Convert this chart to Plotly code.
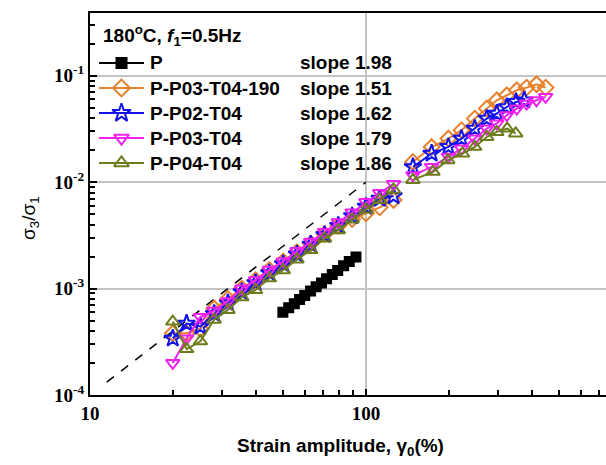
import plotly.graph_objects as go

# ---------------- data ----------------
x_P = [50, 52.5, 55, 57.5, 60, 63, 66, 69, 72, 75.5, 79, 83, 87, 92]
y_P = [6.0e-4, 6.6e-4, 7.2e-4, 7.9e-4, 8.6e-4, 9.5e-4, 1.04e-3, 1.13e-3,
       1.24e-3, 1.36e-3, 1.48e-3, 1.64e-3, 1.80e-3, 1.98e-3]

x_low = [19.95, 22.39, 25.12, 28.18, 31.62, 35.48, 39.81, 44.67, 50.12,
         56.23, 63.10, 70.79, 79.43, 89.13, 100.0, 112.2, 125.9]

y_orange_low = [3.8e-4, 3.8e-4, 4.2e-4, 6.5e-4, 8.0e-4, 1.0e-3, 1.2e-3, 1.5e-3, 1.8e-3,
                2.2e-3, 2.65e-3, 3.25e-3, 3.9e-3, 4.5e-3, 5.1e-3, 5.8e-3, 6.8e-3]
y_blue_low = [3.4e-4, 4.7e-4, 4.4e-4, 5.8e-4, 7.3e-4, 9.3e-4, 1.13e-3, 1.4e-3, 1.7e-3,
              2.1e-3, 2.6e-3, 3.2e-3, 3.9e-3, 4.8e-3, 5.9e-3, 7.0e-3, 7.4e-3]
y_magenta_low = [2.0e-4, 3.4e-4, 5.4e-4, 6.2e-4, 7.6e-4, 1.0e-3, 1.2e-3, 1.5e-3, 1.8e-3,
                 2.25e-3, 2.75e-3, 3.4e-3, 4.2e-3, 5.2e-3, 6.5e-3, 7.9e-3, 9.6e-3]
y_olive_low = [4.9e-4, 2.7e-4, 3.2e-4, 5.1e-4, 6.3e-4, 8.3e-4, 9.7e-4, 1.25e-3, 1.49e-3,
               1.88e-3, 2.3e-3, 2.96e-3, 3.54e-3, 4.47e-3, 5.55e-3, 6.8e-3, 8.5e-3]

x_orange_high = [148, 173, 199, 222, 248, 274, 298, 324, 352, 382, 415, 448]
y_orange_high = [1.55e-2, 2.14e-2, 2.57e-2, 3.08e-2, 3.96e-2, 4.92e-2, 5.89e-2, 6.56e-2,
                 7.31e-2, 7.74e-2, 8.32e-2, 7.74e-2]
x_blue_high = [148, 173, 199, 222, 248, 274, 298, 324, 350, 375]
y_blue_high = [1.39e-2, 1.86e-2, 2.15e-2, 2.57e-2, 3.19e-2, 3.96e-2, 4.42e-2, 5.09e-2,
               5.68e-2, 5.89e-2]
x_magenta_high = [148, 173, 199, 222, 248, 274, 298, 324, 352, 382, 415, 448]
y_magenta_high = [1.16e-2, 1.39e-2, 1.73e-2, 2.07e-2, 2.57e-2, 3.19e-2, 3.56e-2, 4.26e-2,
                  4.92e-2, 5.48e-2, 5.89e-2, 6.33e-2]
x_olive_high = [148, 175, 198, 224, 248, 274, 298, 325, 349]
y_olive_high = [1.05e-2, 1.25e-2, 1.61e-2, 1.86e-2, 2.15e-2, 2.66e-2, 2.97e-2, 3.19e-2, 2.87e-2]

guide_x = [11.5, 100]
guide_y = [1.32e-4, 1.0e-2]

legend_title = "180<sup>o</sup>C, <i>f</i><sub>1</sub>=0.5Hz"
names = ["P", "P-P03-T04-190", "P-P02-T04", "P-P03-T04", "P-P04-T04"]
slopes = ["slope 1.98", "slope 1.51", "slope 1.62", "slope 1.79", "slope 1.86"]
colors = ["#000000", "#E8802C", "#1010F0", "#F020F0", "#6E7B1B"]
symbols = ["square", "diamond-open", "star-open", "triangle-down-open", "triangle-up-open"]

y_tickvals = [1e-4, 1e-3, 1e-2, 1e-1]
y_ticktext = ["10<sup>-4</sup>", "10<sup>-3</sup>", "10<sup>-2</sup>", "10<sup>-1</sup>"]
x_tickvals = [10, 100]
x_ticktext = ["10", "100"]


def joined(xa, ya, xb, yb):
    return list(xa) + [None] + list(xb), list(ya) + [None] + list(yb)


series = [
    (x_P, y_P),
    joined(x_low, y_orange_low, x_orange_high, y_orange_high),
    joined(x_low, y_blue_low, x_blue_high, y_blue_high),
    joined(x_low, y_magenta_low, x_magenta_high, y_magenta_high),
    joined(x_low, y_olive_low, x_olive_high, y_olive_high),
]

W, H = 606, 465
ml, mr, mt, mb = 90, 0, 13, 70
pw = W - ml - mr
ph = H - mt - mb


def px2paper_x(px):
    return (px - ml) / pw


def px2paper_y(py):
    return (H - mb - py) / ph


FONT = "Liberation Sans, Arial"

fig = go.Figure()

fig.add_trace(go.Scatter(x=guide_x, y=guide_y, mode="lines", showlegend=False,
                         line=dict(color="black", width=1.5, dash="dash")))

sizes = [9, 12, 13, 12, 12]
for i, (xs, ys) in enumerate(series):
    fig.add_trace(go.Scatter(
        x=xs, y=ys, mode="lines+markers", name=names[i], connectgaps=False,
        showlegend=False,
        line=dict(color=colors[i], width=2),
        marker=dict(symbol=symbols[i], size=sizes[i], color=colors[i],
                    line=dict(color=colors[i], width=2)),
    ))

# ---- hand-built legend (keys on an overlay axis in plot-fraction units) ----
rows_y = [63, 88, 113, 138, 163]
key_x0, key_x1, text_x, slope_x = 99, 144, 148, 298
for i in range(len(names)):
    yy = px2paper_y(rows_y[i])
    fig.add_trace(go.Scatter(
        x=[px2paper_x(key_x0), px2paper_x(key_x1)], y=[yy, yy], mode="lines",
        xaxis="x2", yaxis="y2", showlegend=False, hoverinfo="skip",
        line=dict(color=colors[i], width=2)))
    fig.add_trace(go.Scatter(
        x=[px2paper_x((key_x0 + key_x1) / 2)], y=[yy], mode="markers",
        xaxis="x2", yaxis="y2", showlegend=False, hoverinfo="skip",
        marker=dict(symbol=symbols[i], size=sizes[i] + 1, color=colors[i],
                    line=dict(color=colors[i], width=2))))
    fig.add_annotation(x=px2paper_x(text_x), y=yy, xref="paper", yref="paper",
                       text=names[i], showarrow=False, xanchor="left", yanchor="middle",
                       font=dict(family=FONT, size=19, color="black", weight="bold"))
    fig.add_annotation(x=px2paper_x(slope_x), y=yy, xref="paper", yref="paper",
                       text=slopes[i], showarrow=False, xanchor="left", yanchor="middle",
                       font=dict(family=FONT, size=19, color="black", weight="bold"))

fig.add_annotation(x=px2paper_x(101), y=px2paper_y(35), xref="paper", yref="paper",
                   text=legend_title, showarrow=False, xanchor="left", yanchor="middle",
                   font=dict(family=FONT, size=19, color="black", weight="bold"))

fig.add_annotation(x=px2paper_x(340), y=px2paper_y(447), xref="paper", yref="paper",
                   text="Strain amplitude, γ<sub>0</sub>(%)", showarrow=False,
                   xanchor="center", yanchor="middle",
                   font=dict(family=FONT, size=19, color="black", weight="bold"))
fig.add_annotation(x=px2paper_x(30), y=px2paper_y(218), xref="paper", yref="paper",
                   text="σ<sub>3</sub>/σ<sub>1</sub>", showarrow=False, textangle=-90,
                   xanchor="center", yanchor="middle",
                   font=dict(family=FONT, size=19, color="black"))

tickfont = dict(family="Liberation Serif, Times New Roman", size=19, color="black",
                weight="bold")
fig.update_layout(
    width=W, height=H,
    margin=dict(l=ml, r=mr, t=mt, b=mb, pad=0),
    paper_bgcolor="white", plot_bgcolor="white",
    showlegend=False,
    xaxis=dict(type="log", range=[1, 2.87], showline=True, linecolor="black", linewidth=2,
               mirror=True, ticks="inside", ticklen=6, tickwidth=1.5, tickcolor="black",
               tickmode="array", tickvals=x_tickvals, ticktext=x_ticktext,
               showgrid=True, gridcolor="#c4c4c4", gridwidth=1.5, zeroline=False,
               tickfont=tickfont,
               minor=dict(ticks="inside", ticklen=5, tickwidth=1.5, tickcolor="black",
                          dtick="D1", showgrid=False)),
    yaxis=dict(type="log", range=[-4, -0.41], showline=True, linecolor="black", linewidth=2,
               mirror=False, ticks="inside", ticklen=7, tickwidth=1.5, tickcolor="black",
               tickmode="array", tickvals=y_tickvals, ticktext=y_ticktext,
               showgrid=True, gridcolor="#c4c4c4", gridwidth=1.5, zeroline=False,
               tickfont=tickfont,
               minor=dict(ticks="inside", ticklen=5, tickwidth=1.5, tickcolor="black",
                          dtick="D1", showgrid=False)),
    xaxis2=dict(overlaying="x", range=[0, 1], visible=False, fixedrange=True),
    yaxis2=dict(overlaying="y", range=[0, 1], visible=False, fixedrange=True),
)

fig.write_html("out.html")
